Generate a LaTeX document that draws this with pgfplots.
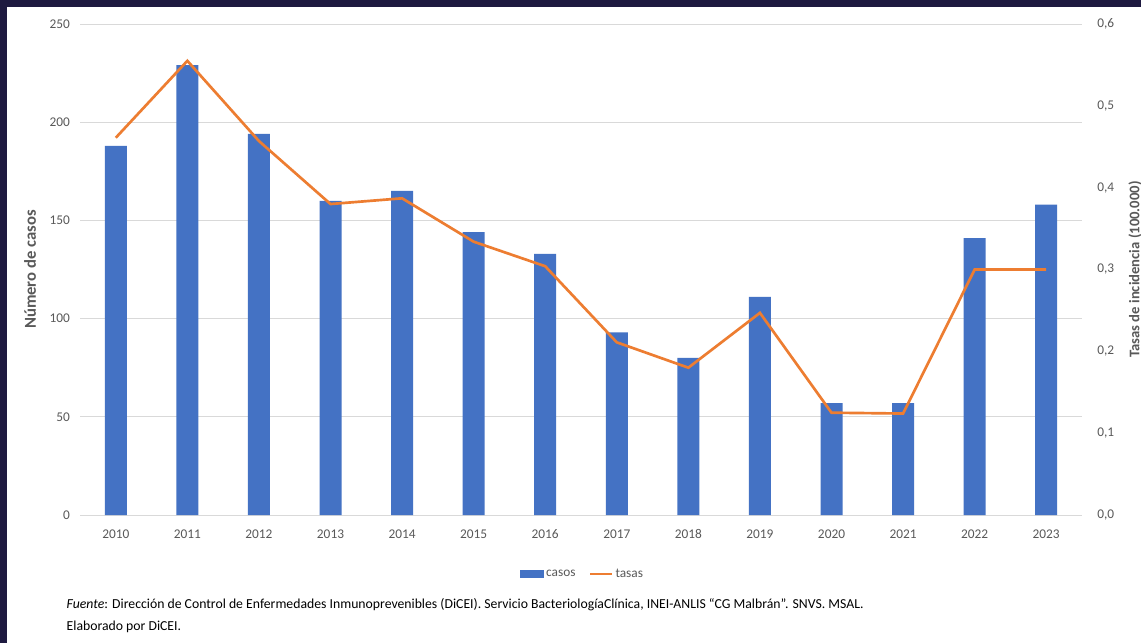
\documentclass[border=0pt]{standalone}
\usepackage{pgfplots}
\pgfplotsset{compat=1.18}
\usepackage{fontspec}
\setmainfont{Carlito}[Numbers=Lining]
\definecolor{navy}{HTML}{1E1A40}
\definecolor{barblue}{HTML}{4472C4}
\definecolor{lineorange}{HTML}{ED7D31}
\definecolor{txtgray}{HTML}{595959}
\definecolor{gridgray}{HTML}{D9D9D9}
\begin{document}
\begin{tikzpicture}
\path[use as bounding box] (0,0) rectangle (855.75pt,482.25pt);
\fill[white] (0,0) rectangle (855.75pt,482.25pt);
\fill[navy] (0,0) rectangle (5.25pt,482.25pt);
\fill[navy] (0,477pt) rectangle (855.75pt,482.25pt);
\begin{axis}[
  at={(60pt,96pt)}, anchor=south west,
  scale only axis, width=751.5pt, height=368.25pt,
  xmin=-0.5, xmax=13.5, ymin=0, ymax=250,
  xtick={0,...,13},
  xticklabels={2010,2011,2012,2013,2014,2015,2016,2017,2018,2019,2020,2021,2022,2023},
  ytick={0,50,...,250},
  ymajorgrids, grid style={gridgray, line width=0.6pt},
  axis line style={draw=none},
  major tick length=0pt,
  tick label style={font=\fontsize{10}{12}\selectfont, text=txtgray},
  xticklabel style={yshift=-7pt, text height=7pt, text depth=1pt},
  yticklabel style={xshift=-4pt},
  /pgf/number format/assume math mode=true,
  ylabel={Número de casos},
  every axis y label/.style={at={(axis description cs:-0.0499,0.5)}, rotate=90, anchor=center, font=\bfseries\fontsize{12.5}{14}\selectfont, text=txtgray},
]
\addplot[ybar, bar width=16.5pt, fill=barblue, draw=none] coordinates {
(0,188) (1,229) (2,194) (3,160) (4,165) (5,144) (6,133) (7,93) (8,80) (9,111) (10,57) (11,57) (12,141) (13,158)};
\end{axis}
\begin{axis}[
  at={(60pt,96pt)}, anchor=south west,
  scale only axis, width=751.5pt, height=368.25pt,
  xmin=-0.5, xmax=13.5, ymin=0, ymax=0.6,
  axis x line=none, axis y line*=right,
  axis line style={draw=none},
  ytick={0,0.1,...,0.6},
  major tick length=0pt,
  tick label style={font=\fontsize{10}{12}\selectfont, text=txtgray},
  yticklabel style={xshift=8pt, /pgf/number format/.cd, use comma, fixed, fixed zerofill, precision=1, assume math mode=true},
  ylabel={Tasas de incidencia (100.000)},
  every axis y label/.style={at={(axis description cs:1.0529,0.5)}, rotate=90, anchor=center, font=\bfseries\fontsize{11}{13}\selectfont, text=txtgray},
  legend style={at={(axis description cs:0.502,-0.12)}, anchor=center, draw=none, fill=none, legend columns=2, font=\fontsize{10}{12}\selectfont, text=txtgray, /tikz/every even column/.append style={column sep=8pt}},
  legend cell align=left,
]
\addlegendimage{legend image code/.code={\fill[barblue] (-2pt,-2.6pt) rectangle (15pt,2.6pt);}}
\addlegendentry{casos}
\addplot[lineorange, line width=2pt, mark=none, legend image code/.code={\draw[lineorange, line width=2pt] (0pt,0pt) -- (16pt,0pt);}] coordinates {
(0,0.461) (1,0.555) (2,0.457) (3,0.380) (4,0.387) (5,0.334) (6,0.304) (7,0.211) (8,0.180) (9,0.247) (10,0.125) (11,0.124) (12,0.300) (13,0.300)};
\addlegendentry{tasas}
\end{axis}
\node[anchor=west, font=\fontsize{10.3}{12}\selectfont] at (46.5pt,28.5pt) {\textit{Fuente}: Dirección de Control de Enfermedades Inmunoprevenibles (DiCEI). Servicio BacteriologíaClínica, INEI-ANLIS “CG Malbrán”. SNVS. MSAL.};
\node[anchor=west, font=\fontsize{10.3}{12}\selectfont] at (46.5pt,12pt) {Elaborado por DiCEI.};
\end{tikzpicture}
\end{document}
